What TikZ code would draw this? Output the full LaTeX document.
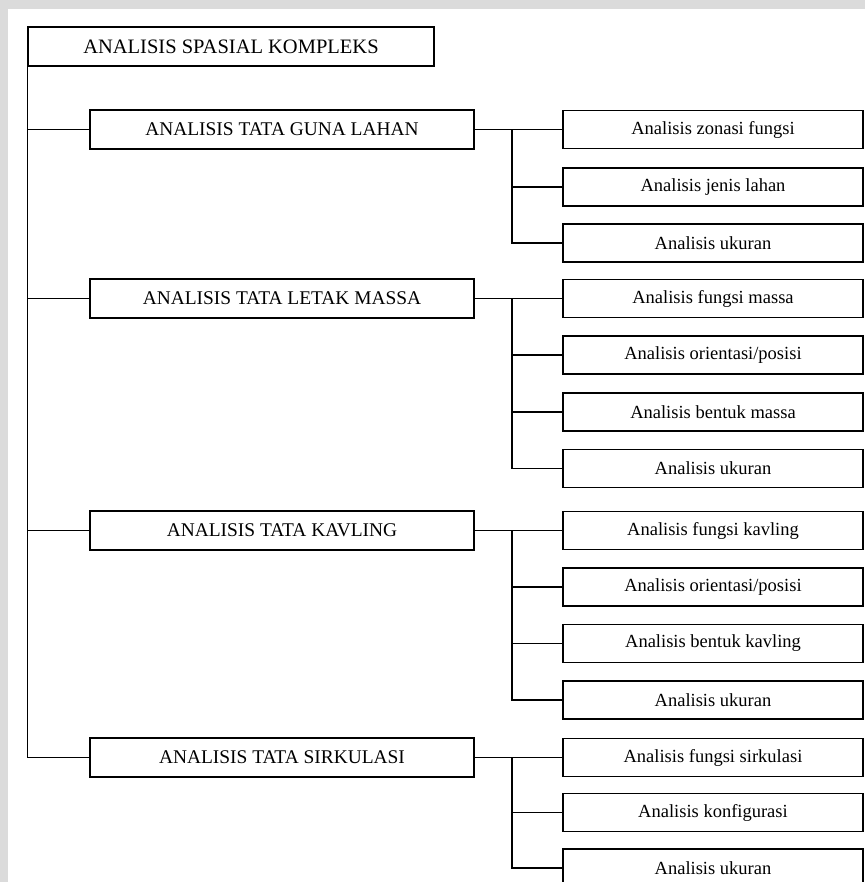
\documentclass[tikz,border=0pt]{standalone}
\usepackage{fontspec}
\setmainfont{Liberation Serif}
\begin{document}
\begin{tikzpicture}[x=1pt,y=-1pt,
  ln/.style={line width=1.5pt,black},
  topbox/.style={draw,ln,minimum width=406pt,minimum height=39pt,inner sep=0pt,font=\fontsize{20.5}{20.5}\selectfont},
  mainbox/.style={draw,ln,minimum width=384pt,minimum height=39pt,inner sep=0pt,font=\fontsize{19.4}{19.4}\selectfont},
  subbox/.style={draw,ln,minimum width=300pt,minimum height=38pt,inner sep=0pt,font=\fontsize{18.5}{18.5}\selectfont},
  conn/.style={ln}]
\clip (0,0) rectangle (865,882);
\fill[black!14] (0,0) rectangle (865,882);
\fill[white] (8,9) rectangle (865,882);
% top
\node[topbox] (top) at (231,46.5) {ANALISIS SPASIAL KOMPLEKS};
% level 1
\node[mainbox] (a) at (282,129.5) {ANALISIS TATA GUNA LAHAN};
\node[mainbox] (b) at (282,298.5) {ANALISIS TATA LETAK MASSA};
\node[mainbox] (c) at (282,530.5) {ANALISIS TATA KAVLING};
\node[mainbox] (d) at (282,757.5) {ANALISIS TATA SIRKULASI};
% children
\node[subbox] (a1) at (713,129.5) {Analisis zonasi fungsi};
\node[subbox] (a2) at (713,187) {Analisis jenis lahan};
\node[subbox] (a3) at (713,243) {Analisis ukuran};
\node[subbox] (b1) at (713,298.5) {Analisis fungsi massa};
\node[subbox] (b2) at (713,355) {Analisis orientasi/posisi};
\node[subbox] (b3) at (713,412) {Analisis bentuk massa};
\node[subbox] (b4) at (713,468.5) {Analisis ukuran};
\node[subbox] (c1) at (713,530.5) {Analisis fungsi kavling};
\node[subbox] (c2) at (713,587) {Analisis orientasi/posisi};
\node[subbox] (c3) at (713,643.5) {Analisis bentuk kavling};
\node[subbox] (c4) at (713,700) {Analisis ukuran};
\node[subbox] (d1) at (713,757.5) {Analisis fungsi sirkulasi};
\node[subbox] (d2) at (713,812.5) {Analisis konfigurasi};
\node[subbox] (d3) at (713,868) {Analisis ukuran};
% trunk
\draw[conn] (top.south west) |- (d.west);
\foreach \n in {a,b,c} \draw[conn] (top.south west |- \n.west) -- (\n.west);
% branches
\coordinate (xa) at (512,0);
\draw[conn] (a.east) -- (a1.west);
\draw[conn] (xa |- a.east) |- (a3.west);
\draw[conn] (xa |- a2.west) -- (a2.west);
\draw[conn] (b.east) -- (b1.west);
\draw[conn] (xa |- b.east) |- (b4.west);
\foreach \n in {b2,b3} \draw[conn] (xa |- \n.west) -- (\n.west);
\draw[conn] (c.east) -- (c1.west);
\draw[conn] (xa |- c.east) |- (c4.west);
\foreach \n in {c2,c3} \draw[conn] (xa |- \n.west) -- (\n.west);
\draw[conn] (d.east) -- (d1.west);
\draw[conn] (xa |- d1.west) |- (d3.west);
\draw[conn] (xa |- d2.west) -- (d2.west);
\end{tikzpicture}
\end{document}
